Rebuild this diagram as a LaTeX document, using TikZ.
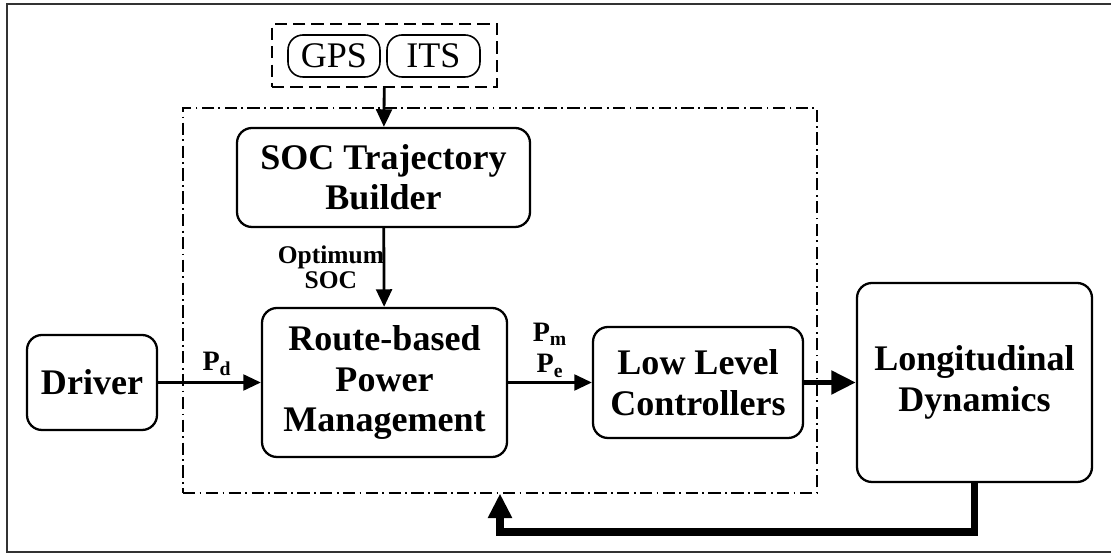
\documentclass[tikz,border=0pt]{standalone}
\usepackage{fontspec}
\setmainfont{Liberation Serif}
\usetikzlibrary{positioning,arrows.meta}

\begin{document}
\begin{tikzpicture}[
          x=0.2mm, y=-0.2mm,
          blk/.style={draw, line width=1.3pt, rounded corners=3mm, align=center, inner sep=0pt,
                      font=\fontsize{20.5}{23}\selectfont\bfseries},
          src/.style={draw, line width=0.9pt, rounded corners=3mm, inner sep=0pt,
                      minimum height=8.4mm, font=\fontsize{20.5}{24}\selectfont},
          lbl/.style={font=\fontsize{16}{18}\selectfont\bfseries, align=center},
          flow/.style={line width=1.6pt, -{Triangle[length=10pt,width=9pt]}},
          bigflow/.style={line width=3.2pt, -{Triangle[length=14pt,width=13pt]}}
      ]
        \useasboundingbox (0,0) rectangle (1111,554);
        \draw[line width=0.9pt, black!80] (1115,4) -- (7,4) -- (7,552) -- (1115,552);
        \node[draw, line width=0.6pt, dash pattern=on 7pt off 2.5pt on 1pt off 2.5pt,
              minimum width=126.8mm, minimum height=77mm] (frame) at (500,300.5) {};
        \node[draw, line width=1.1pt, dash pattern=on 7pt off 3.5pt,
              minimum width=45mm, minimum height=12.6mm] (sensors) at (384.5,55.5) {};
        \node[src, minimum width=18.4mm] (gps) at (334,56) {GPS};
        \node[src, minimum width=18.6mm] (its) at (433.5,56) {ITS};
        \node[blk, minimum width=58.6mm, minimum height=19.8mm] (soc) at (383.5,177.5) {SOC Trajectory\\Builder};
        \node[blk, minimum width=49mm, minimum height=29.8mm] (route) at (384.5,382.5) {Route-based\\Power\\Management};
        \node[blk, minimum width=26mm, minimum height=19mm] (driver) at (92,382.5) {Driver};
        \node[blk, minimum width=42mm, minimum height=22.2mm] (llc) at (698,382.5) {Low Level\\Controllers};
        \node[blk, minimum width=47mm, minimum height=39.8mm] (long) at (974.5,382.5) {Longitudinal\\Dynamics};
        \coordinate (fb) at (500,532);
        \draw[flow] (sensors) -- (soc);
        \draw[flow] (soc) -- node[lbl, left, inner sep=0pt, font=\fontsize{14.5}{14}\selectfont\bfseries, xshift=0.3mm] (optsoc) {Optimum\\SOC} (route);
        \draw[flow] (driver) -- node[lbl, above, xshift=1.5mm] (pd) {P\textsubscript{d}} (route);
        \draw[flow] (route) -- node[lbl, above, inner sep=2pt] (pme) {P\textsubscript{m}\\P\textsubscript{e}} (llc);
        \draw[bigflow] (llc) -- (long);
        \draw[bigflow, line width=4pt] (long.south) |- (fb) -- (frame.south);
      \end{tikzpicture}
\end{document}
